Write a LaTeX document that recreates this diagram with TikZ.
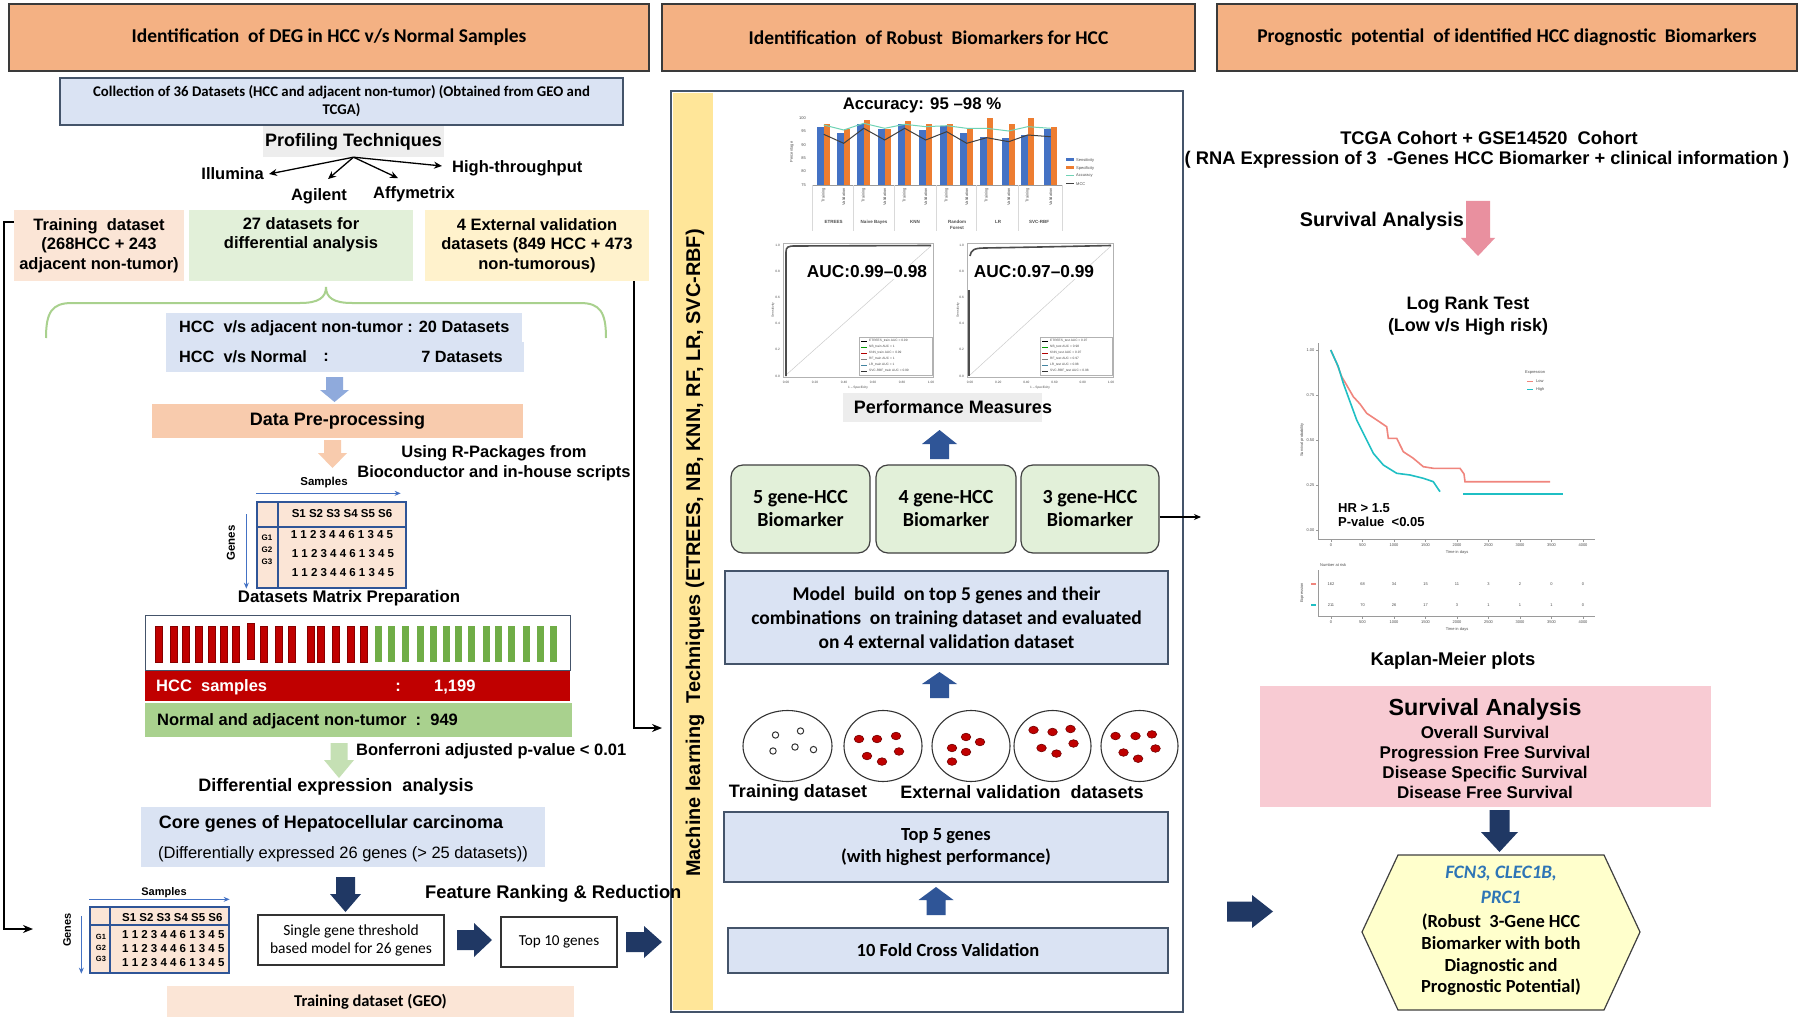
\documentclass[tikz,border=0pt]{standalone}
\usepackage{fontspec}
\setmainfont{Liberation Sans}
\newfontfamily\calfont{Carlito}
\usetikzlibrary{arrows.meta,shapes.geometric,calc}
\definecolor{hdrfill}{HTML}{F4B183}
\definecolor{hdrline}{HTML}{3A3A3A}
\definecolor{lblue}{HTML}{DAE3F3}
\definecolor{bline}{HTML}{44546A}
\definecolor{peach}{HTML}{FBE5D6}
\definecolor{peachb}{HTML}{F8CBAD}
\definecolor{lgreen}{HTML}{E2F0D9}
\definecolor{lyellow}{HTML}{FFF2CC}
\definecolor{bracec}{HTML}{A9D18E}
\definecolor{arrblue}{HTML}{8FAADC}
\definecolor{mblue}{HTML}{4472C4}
\definecolor{dred}{HTML}{C00000}
\definecolor{bgreen}{HTML}{70AD47}
\definecolor{ngreen}{HTML}{A9D18E}
\definecolor{garrow}{HTML}{C5E0B4}
\definecolor{navy}{HTML}{203864}
\definecolor{gold}{HTML}{FFE699}
\definecolor{upblue}{HTML}{2F5597}
\definecolor{lgray}{HTML}{EDEDED}
\definecolor{pinkar}{HTML}{E9909F}
\definecolor{pinkbox}{HTML}{F8CBD3}
\definecolor{hexfill}{HTML}{FFFFCC}
\definecolor{geneblue}{HTML}{2E75B6}
\definecolor{barorange}{HTML}{ED7D31}
\definecolor{barblue}{HTML}{4472C4}
\definecolor{accgreen}{HTML}{6FD3B5}
\definecolor{mccgray}{HTML}{404040}
\definecolor{kmred}{HTML}{F0857D}
\definecolor{kmcyan}{HTML}{1FBFC4}
\definecolor{axgray}{HTML}{9A9A9A}
\newcommand\fs[2]{\fontsize{#1}{#2}\selectfont}
\newcommand\mybox[7]{\node[#6,minimum width={(#4)-(#2)},minimum height={(#5)-(#3)},inner sep=0pt] (#1) at ({((#2)+(#4))/2},{((#3)+(#5))/2}) {#7};}
\newcommand\mydarrow[7]{\fill[#1] ({(#2)-(#5)/2},#3) -- ({(#2)+(#5)/2},#3) -- ({(#2)+(#5)/2},#7) -- ({(#2)+(#6)/2},#7) -- (#2,#4) -- ({(#2)-(#6)/2},#7) -- ({(#2)-(#5)/2},#7) -- cycle;}
\newcommand\myharrow[7]{\fill[#1] (#3,{(#2)-(#5)/2}) -- (#7,{(#2)-(#5)/2}) -- (#7,{(#2)-(#6)/2}) -- (#4,#2) -- (#7,{(#2)+(#6)/2}) -- (#7,{(#2)+(#5)/2}) -- (#3,{(#2)+(#5)/2}) -- cycle;}
\tikzset{
  hdr/.style={draw=hdrline,line width=1.5pt,fill=hdrfill,font=\calfont\bfseries\fs{19.5}{23}},
  lab/.style={inner sep=0pt},
  tbox/.style={align=center,font=\bfseries\fs{16.5}{19.5}},
  thinar/.style={line width=1.3pt,-{Stealth[length=8pt,width=7pt]}},
  bigconn/.style={line width=2pt,-{Stealth[length=10pt,width=8pt]}},
  mbox/.style={draw=bline,line width=1.3pt,fill=lblue,align=center,font=\calfont\bfseries\fs{19.5}{24}},
  gbox/.style={draw=black!75,line width=1.2pt,fill=lgreen,rounded corners=12pt,align=center,font=\calfont\bfseries\fs{20}{23}},
  tiny/.style={inner sep=0pt,font=\mdseries\fs{4}{5},text=black!70},
  dotr/.style={fill=dred,draw=dred!60!black,line width=0.6pt},
}
\begin{document}
\begin{tikzpicture}[x=1pt,y=-1pt]
\useasboundingbox (0,0) rectangle (1800,1019);
\fill[white] (0,0) rectangle (1800,1019);

%================ Column 1 =================
\mybox{h1}{9}{4}{649}{71}{hdr}{Identification\ \ of DEG in HCC v/s Normal Samples}
\mybox{coll}{60}{78}{623}{125}{draw=bline,line width=1.2pt,fill=lblue,align=center,font=\calfont\bfseries\fs{14.8}{18}}{Collection of 36 Datasets (HCC and adjacent non-tumor) (Obtained from GEO and\\TCGA)}
\mybox{prof}{263}{126}{444}{157}{fill=lgray,font=\bfseries\fs{18}{21}}{Profiling Techniques}
\node[lab,anchor=east,font=\bfseries\fs{16.5}{20}] (illu) at (264,174) {Illumina};
\node[lab,font=\bfseries\fs{16.5}{20}] (agil) at (319,196) {Agilent};
\node[lab,font=\bfseries\fs{16.5}{20}] (affy) at (414,194) {Affymetrix};
\node[lab,anchor=west,font=\bfseries\fs{16.5}{20}] (hith) at (452,168) {High-throughput};
\draw[thinar] (prof.south) -- ([xshift=5pt]illu.east);
\draw[thinar] (prof.south) -- ([xshift=9pt,yshift=9pt]agil.north);
\draw[thinar] (prof.south) -- ([xshift=-16pt,yshift=8pt]affy.north);
\draw[thinar] (prof.south) -- ([xshift=-10pt,yshift=2pt]hith.west);

\mybox{train}{14}{210}{184}{281}{tbox,fill=peach}{Training\ \ dataset\\(268HCC + 243\\adjacent non-tumor)}
\mybox{d27}{189}{210}{413}{281}{tbox,fill=lgreen}{27 datasets for\\differential analysis\\\strut}
\mybox{ext}{425}{210}{649}{281}{tbox,fill=lyellow}{4 External validation\\datasets (849 HCC + 473\\non-tumorous)}

\draw[bracec,line width=2pt] (46,338) .. controls (46,312) and (52,303) .. (72,303) -- (300,303) .. controls (318,303) and (326,298) .. (326,287) .. controls (326,298) and (334,303) .. (352,303) -- (580,303) .. controls (600,303) and (606,312) .. (606,338);

\mybox{vs1}{166}{313}{522}{342}{fill=lblue}{}
\mybox{vs2}{166}{342}{524}{372}{fill=lblue}{}
\node[lab,anchor=west,font=\bfseries\fs{16.3}{19}] (vs1t) at (179,328) {HCC\ \ v/s adjacent non-tumor : 20 Datasets};
\node[lab,anchor=west,font=\bfseries\fs{16.3}{19}] (vs2a) at (179,357) {HCC\ \ v/s Normal};
\node[lab,font=\bfseries\fs{16.3}{19}] (vs2b) at (326,357) {:};
\node[lab,anchor=east,font=\bfseries\fs{16.3}{19}] (vs2c) at (503,357) {7 Datasets};

\mydarrow{arrblue}{334.5}{377}{402}{17}{29}{390}
\mybox{pre}{152}{404}{523}{438}{fill=peachb,font=\bfseries\fs{18}{21}}{Data Pre-processing}
\mydarrow{peachb}{332.5}{440}{468}{17}{29}{453}
\node[align=center,inner sep=0pt,font=\bfseries\fs{16.5}{20}] (usingr) at (494,463) {Using R-Packages from\\Bioconductor and in-house scripts};

% matrix 1
\node[lab,font=\bfseries\fs{11.5}{13}] (samp1) at (324,483) {Samples};
\mybox{mat1}{257}{502}{406}{588}{draw=upblue,line width=1.3pt,fill=peach}{}
\draw[upblue,line width=1.1pt] (278,502) -- (278,588) (257,527) -- (406,527);
\draw[mblue,line width=1.3pt,-{Stealth[length=6pt,width=5pt]}] ([yshift=8pt]mat1.north west) -- ([yshift=8pt,xshift=-6pt]mat1.north east);
\node[lab,font=\bfseries\fs{11.5}{13}] (m1h) at (342,514) {S1 S2 S3 S4 S5 S6};
\node[lab,font=\bfseries\fs{11.5}{13}] (m1r1) at (342,535) {1 1 2 3 4 4 6 1 3 4 5};
\node[lab,font=\bfseries\fs{11.5}{13}] (m1r2) at (343,554) {1 1 2 3 4 4 6 1 3 4 5};
\node[lab,font=\bfseries\fs{11.5}{13}] (m1r3) at (343,573) {1 1 2 3 4 4 6 1 3 4 5};
\node[lab,align=center,font=\bfseries\fs{8}{12}] (m1g) at (267,550) {G1\\G2\\G3};
\node[lab,rotate=90,font=\bfseries\fs{11.5}{13}] (genes1) at (231,543) {Genes};
\draw[mblue,line width=1.3pt,-{Stealth[length=6pt,width=5pt]}] ([xshift=-10pt,yshift=-13pt]mat1.north west) -- ([xshift=-10pt]mat1.south west);
\node[lab,font=\bfseries\fs{16.8}{20}] (dmp) at (349,598) {Datasets Matrix Preparation};

% bars
\mybox{bars}{145}{615}{570}{670}{draw=bline,line width=1pt,fill=white}{}
\foreach \x in {155,170,182,195,208,220,232,260,275,288,307,317,332,347,360}
  \fill[dred,draw=dred!70!black,line width=0.5pt] (\x,626) rectangle ++(7.5,36);
\fill[dred,draw=dred!70!black,line width=0.5pt] (247,623) rectangle ++(7.5,36);
\foreach \x in {375,388,402,417,430,443,455,468,483,495,508,523,537,550}
  \fill[bgreen] (\x,626) rectangle ++(7,36);
\mybox{hccs}{145}{671}{570}{701}{fill=dred}{}
\node[lab,anchor=west,text=white,font=\bfseries\fs{16.5}{19}] (hcct) at (156,687) {HCC\ \ samples};
\node[lab,text=white,font=\bfseries\fs{16.5}{19}] (hccc) at (398,687) {:};
\node[lab,anchor=west,text=white,font=\bfseries\fs{16.5}{19}] (hccn) at (434,687) {1,199};
\mybox{norm}{145}{703}{572}{737}{fill=ngreen}{}
\node[lab,anchor=west,font=\bfseries\fs{16.5}{19}] (normt) at (157,721) {Normal and adjacent non-tumor\ \ :\ \ 949};

\mydarrow{garrow}{339}{743}{778}{17}{30}{760}
\node[lab,anchor=west,font=\bfseries\fs{16.5}{19}] (bonf) at (356,751) {Bonferroni adjusted p-value < 0.01};
\node[lab,font=\bfseries\fs{18}{21}] (diffx) at (336,787) {Differential expression\ \ analysis};
\mybox{core}{141}{807}{545}{867}{fill=lblue}{}
\node[lab,font=\bfseries\fs{18}{21}] (coret) at (331,824) {Core genes of Hepatocellular carcinoma};
\node[lab,font=\mdseries\fs{16.5}{19}] (cores) at (343,854) {(Differentially expressed 26 genes (> 25 datasets))};
\mydarrow{navy}{345.5}{877}{912}{19}{31}{894}

% matrix 2
\node[lab,font=\bfseries\fs{11}{13}] (samp2) at (164,893) {Samples};
\mybox{mat2}{90}{907}{229}{973}{draw=upblue,line width=1.3pt,fill=peach}{}
\draw[upblue,line width=1.1pt] (110,907) -- (110,973) (90,925) -- (229,925);
\draw[mblue,line width=1.3pt,-{Stealth[length=6pt,width=5pt]}] ([yshift=7pt]mat2.north west) -- ([yshift=7pt]mat2.north east);
\begin{scope}
\clip (90,907) rectangle (229,973);
\node[lab,anchor=west,font=\bfseries\fs{11.5}{13}] (m2h) at (122,918) {S1 S2 S3 S4 S5 S6};
\node[lab,anchor=west,font=\bfseries\fs{11.5}{13}] (m2r1) at (122,935) {1 1 2 3 4 4 6 1 3 4 5};
\node[lab,anchor=west,font=\bfseries\fs{11.5}{13}] (m2r2) at (122,949) {1 1 2 3 4 4 6 1 3 4 5};
\node[lab,anchor=west,font=\bfseries\fs{11.5}{13}] (m2r3) at (122,963) {1 1 2 3 4 4 6 1 3 4 5};
\end{scope}
\node[lab,align=center,font=\bfseries\fs{7.5}{11}] (m2g) at (101,948) {G1\\G2\\G3};
\node[lab,rotate=90,font=\bfseries\fs{11}{13}] (genes2) at (67,930) {Genes};
\draw[mblue,line width=1.3pt,-{Stealth[length=6pt,width=5pt]}] ([xshift=-8pt,yshift=-10pt]mat2.north west) -- ([xshift=-8pt]mat2.south west);

\mybox{sgl}{258}{915}{444}{965}{draw=black!80,line width=1.2pt,fill=white,align=center,font=\calfont\mdseries\fs{15.5}{18}}{Single gene threshold\\based model for 26 genes}
\myharrow{navy}{940}{457}{492}{20}{34}{474}
\mybox{top10}{501}{917}{617}{967}{draw=black!80,line width=1.2pt,fill=white,font=\calfont\mdseries\fs{15.2}{18}}{Top 10 genes}
\myharrow{navy}{942}{626}{662}{20}{32}{644}
\mybox{geo}{167}{986}{574}{1017}{fill=peach,font=\calfont\bfseries\fs{16.5}{20}}{Training dataset (GEO)}

\coordinate (lcorner) at (4,929);
\coordinate (m2tip) at (33,929);
\draw[bigconn] ([yshift=23.5pt]train.west) -| (lcorner) -- (m2tip);
\coordinate (rtip) at (662,728);
\draw[bigconn] ([xshift=-15pt]ext.south east) |- (rtip);

%================ Column 2 =================
\mybox{h2}{662}{4}{1195}{71}{hdr}{Identification\ \ of Robust\ \ Biomarkers for HCC}
\mybox{ml}{671}{91}{1183}{1012}{draw=bline,line width=1.3pt,fill=white}{}
\mybox{band}{673}{93}{713}{1010}{fill=gold}{}
\node[lab,rotate=90,font=\bfseries\fs{19.9}{22}] (mltext) at (695,553) {Machine learning\ \ Techniques (ETREES, NB, KNN, RF, LR, SVC-RBF)};
\node[lab,anchor=west,font=\bfseries\fs{18.3}{21}] (feat) at (425,894) {Feature Ranking \& Reduction};

\node[lab,font=\bfseries\fs{16.8}{20}] (acc) at (922,105) {Accuracy: 95 --98 \%};
% bar chart
\foreach \xb/\bt/\ot in {817/127.3/124,837/132.7/129.3,857/124.3/120,878/128.7/128.7,898/124/121,919/130/124.3,940/126/124.3,960/132.7/128.3,980/136.7/117.7,1002/137.7/124.3,1021/134.7/117.7,1044/129/126.7}{
  \fill[barblue] (\xb,\bt) rectangle ({\xb+6.7},185);
  \fill[barorange] ({\xb+6.7},\ot) rectangle ({\xb+13.4},185);
}
\draw[accgreen,line width=1pt] (823.7,125) -- (843.7,130) -- (863.7,123.3) -- (884.7,128.3) -- (904.7,124.3) -- (925.7,126.7) -- (946.7,125.7) -- (966.7,128.3) -- (986.7,128.3) -- (1008.7,131) -- (1027.7,126.7) -- (1050.7,128.3);
\draw[mccgray,line width=1pt] (823.7,134.3) -- (843.7,143.3) -- (863.7,128.3) -- (884.7,140) -- (904.7,128.3) -- (925.7,140) -- (946.7,131.7) -- (966.7,143.3) -- (986.7,137.7) -- (1008.7,141.7) -- (1027.7,135) -- (1050.7,136.7);
\draw[axgray,line width=0.6pt] (812,185) -- (1062,185);
\foreach \xs in {812,853.7,894.7,936,976.7,1018,1062} \draw[black!15,line width=0.5pt] (\xs,185) -- (\xs,231);
\foreach \xb [count=\i] in {823.7,843.7,863.7,884.7,904.7,925.7,946.7,966.7,986.7,1008.7,1027.7,1050.7}{
  \ifodd\i \node[tiny,rotate=90,anchor=east] (bl\i) at (\xb,188) {Training};
  \else \node[tiny,rotate=90,anchor=east] (bl\i) at (\xb,188) {Validation}; \fi
}
\foreach \gx/\gt [count=\i] in {833.7/ETREES,874/Naive Bayes,915/KNN,998/LR,1039/SVC-RBF}
  \node[tiny,font=\bfseries\fs{4.5}{5}] (grp\i) at (\gx,222) {\gt};
\node[tiny,align=center,font=\bfseries\fs{4.5}{5.5}] (grprf) at (957,225) {Random\\Forest};
\foreach \yl/\yt [count=\i] in {118/100,131.3/95,144.7/90,158/85,171.3/80,184.7/75}
  \node[tiny,anchor=east] (yl\i) at (806,\yl) {\yt};
\node[tiny,rotate=90] (ylab) at (792,152) {Percentage};
\fill[barblue] (1066,158.5) rectangle (1074,161.5);
\fill[barorange] (1066,166.5) rectangle (1074,169.5);
\draw[accgreen,line width=1pt] (1066,176) -- (1074,176);
\draw[mccgray,line width=1pt] (1066,184) -- (1074,184);
\foreach \ly/\lt [count=\i] in {160/Sensitivity,168/Specificity,176/Accuracy,184/MCC}
  \node[tiny,anchor=west] (lg\i) at (1076,\ly) {\lt};

% ROC plots
\draw[black!30,line width=0.5pt] (783,243) rectangle (933,377);
\draw[black!20,line width=0.5pt] (786,375) -- (931,246);
\draw[black!70,line width=1.6pt] (786,376) -- (786,252) .. controls (786,247) and (788,246) .. (795,246) -- (931,245.5);
\draw[black!30,line width=0.5pt] (967,243) rectangle (1113,377);
\draw[black!20,line width=0.5pt] (970,375) -- (1111,246);
\draw[black!70,line width=1.6pt] (969,376) -- (969,290);
\draw[black!70,line width=1.6pt] (970,256) .. controls (971,250) and (974,248) .. (985,248) -- (1040,247) -- (1111,245.5);
\draw[black!30,line width=0.4pt,fill=white] (859,337) rectangle (932,375);
\draw[black!30,line width=0.4pt,fill=white] (1040,337) rectangle (1112,375);
\foreach \lt/\lc [count=\k] in {ETREES\_train AUC = 0.99/black,NB\_train AUC = 1/green!60!black,KNN\_train AUC = 0.99/red!70!black,RF\_train AUC = 1/gray,LR\_train AUC = 1/cyan!60!black,SVC-RBF\_train AUC = 0.99/black!80}{
  \draw[\lc,line width=0.6pt] (861,{335+6*\k}) -- (867,{335+6*\k});
  \node[tiny,anchor=west,font=\mdseries\fs{3.2}{4}] (ra\k) at (869,{335+6*\k}) {\lt};
}
\foreach \lt/\lc [count=\k] in {ETREES\_test AUC = 0.97/black,NB\_test AUC = 0.98/green!60!black,KNN\_test AUC = 0.97/red!70!black,RF\_test AUC = 0.97/gray,LR\_test AUC = 0.98/cyan!60!black,SVC-RBF\_test AUC = 0.98/black!80}{
  \draw[\lc,line width=0.6pt] (1042,{335+6*\k}) -- (1048,{335+6*\k});
  \node[tiny,anchor=west,font=\mdseries\fs{3.2}{4}] (rb\k) at (1050,{335+6*\k}) {\lt};
}
\foreach \tl [count=\k from 0] in {0.00,0.20,0.40,0.60,0.80,1.00}{
  \node[tiny,font=\mdseries\fs{3.2}{4}] (rxa\k) at ({786+29*\k},382) {\tl};
  \node[tiny,font=\mdseries\fs{3.2}{4}] (rxb\k) at ({970+28.2*\k},382) {\tl};
}
\foreach \tl [count=\k from 0] in {1.0,0.8,0.6,0.4,0.2,0.0}{
  \node[tiny,anchor=east,font=\mdseries\fs{3.2}{4}] (rya\k) at (780,{245+26.2*\k}) {\tl};
  \node[tiny,anchor=east,font=\mdseries\fs{3.2}{4}] (ryb\k) at (964,{245+26.2*\k}) {\tl};
}
\node[tiny,font=\mdseries\fs{3.2}{4}] (rxta) at (858,388) {1 -- Specificity};
\node[tiny,font=\mdseries\fs{3.2}{4}] (rxtb) at (1040,388) {1 -- Specificity};
\node[tiny,rotate=90,font=\mdseries\fs{3.2}{4}] (ryta) at (773,310) {Sensitivity};
\node[tiny,rotate=90,font=\mdseries\fs{3.2}{4}] (rytb) at (958,310) {Sensitivity};
\node[lab,fill=white,inner sep=1pt,font=\bfseries\fs{17.3}{20}] (auc1) at (867,272) {AUC:0.99--0.98};
\node[lab,fill=white,inner sep=1pt,font=\bfseries\fs{17.3}{20}] (auc2) at (1034,272) {AUC:0.97--0.99};

\mybox{perf}{843}{393}{1042}{422}{fill=lgray}{}
\node[lab,font=\bfseries\fs{18}{21}] (perft) at (953,407) {Performance Measures};
\mydarrow{upblue}{939.5}{459}{430}{19}{35}{444}

\mybox{g5}{731}{465}{870}{553}{gbox}{5 gene-HCC\\Biomarker}
\mybox{g4}{876}{465}{1016}{553}{gbox}{4 gene-HCC\\Biomarker}
\mybox{g3}{1021}{465}{1159}{553}{gbox}{3 gene-HCC\\Biomarker}
\coordinate (kmin) at (1201,517);
\draw[line width=1.1pt,-{Stealth[length=7pt,width=6pt]}] ([yshift=-8pt]g3.east) -- (kmin);

\mybox{model}{725}{571}{1168}{664}{mbox}{Model\ \ build\ \ on top 5 genes and their\\combinations\ \ on training dataset and evaluated\\on 4 external validation dataset}
\mydarrow{upblue}{939.5}{698}{672}{19}{35}{684}

% ellipses
\node[ellipse,draw=black!80,line width=1.1pt,minimum width=89pt,minimum height=71pt,inner sep=0pt] (e1) at (787.5,746) {};
\node[ellipse,draw=black!80,line width=1.1pt,minimum width=78pt,minimum height=71pt,inner sep=0pt] (e2) at (883,746) {};
\node[ellipse,draw=black!80,line width=1.1pt,minimum width=78pt,minimum height=71pt,inner sep=0pt] (e3) at (971,746) {};
\node[ellipse,draw=black!80,line width=1.1pt,minimum width=77pt,minimum height=71pt,inner sep=0pt] (e4) at (1052.5,746) {};
\node[ellipse,draw=black!80,line width=1.1pt,minimum width=77pt,minimum height=71pt,inner sep=0pt] (e5) at (1139.5,746) {};
\foreach \dx/\dy in {-12/-11,13/-15,-14.5/5,7.5/1,26/3.6}
  \draw[black!80,line width=1pt] ({787.5+\dx},{746+\dy}) circle (3.2);
\foreach \dx/\dy in {-24/-7,-6/-7,13/-10,-16/10,16/5.5,-1/15.6}
  \draw[dotr] ({883+\dx},{746+\dy}) ellipse (4.8 and 3.8);
\foreach \dx/\dy in {-5/-9,9/-4,-19/2,-5/6,-19/15.6}
  \draw[dotr] ({971+\dx},{746+\dy}) ellipse (4.8 and 3.8);
\foreach \dx/\dy in {-19/-16,0/-14,18/-17,-11/2,21/-2.5,4/7.6}
  \draw[dotr] ({1052.5+\dx},{746+\dy}) ellipse (4.8 and 3.8);
\foreach \dx/\dy in {-24/-10,-4/-10,12.4/-11.6,-16/6.5,16/2.5,-1.4/12.7}
  \draw[dotr] ({1139.5+\dx},{746+\dy}) ellipse (4.8 and 3.8);
\node[lab,font=\bfseries\fs{18}{21}] (trl) at (798,793) {Training dataset};
\node[lab,font=\bfseries\fs{18}{21}] (evl) at (1022,792) {External validation\ \ datasets};

\mybox{top5}{724}{812}{1168}{882}{mbox,font=\calfont\bfseries\fs{18.5}{21.5}}{Top 5 genes\\(with highest performance)}
\mydarrow{upblue}{936}{915}{887}{19}{35}{900}
\mybox{fold}{728}{928}{1168}{973}{mbox,font=\calfont\bfseries\fs{18.5}{21.5}}{10 Fold Cross Validation}

%================ Column 3 =================
\mybox{h3}{1217}{4}{1797}{71}{hdr}{Prognostic\ \ potential\ \ of identified HCC diagnostic\ \ Biomarkers}
\node[lab,font=\bfseries\fs{18.3}{21}] (tcga) at (1489,138) {TCGA Cohort + GSE14520\ \ Cohort};
\node[lab,font=\bfseries\fs{18.3}{21}] (rna) at (1487,160) {( RNA Expression of 3\ \ -Genes HCC Biomarker + clinical information )};
\node[lab,anchor=east,font=\bfseries\fs{19.8}{23}] (survl) at (1464,221) {Survival Analysis};
\mydarrow{pinkar}{1478}{201}{256}{24}{34}{238}
\node[lab,align=center,font=\bfseries\fs{18}{22}] (logrank) at (1468,316) {Log Rank Test\\(Low v/s High risk)};

% KM plot
\draw[axgray,line width=0.7pt] (1318,343) -- (1318,539) -- (1595,539);
\draw[axgray,line width=0.7pt] (1318,570) -- (1318,616) -- (1595,616);
\foreach \tl [count=\k from 0] in {0,500,1000,1500,2000,2500,3000,3500,4000}{
  \draw[axgray,line width=0.5pt] ({1331+31.5*\k},539) -- ++(0,2.5);
  \draw[axgray,line width=0.5pt] ({1331+31.5*\k},616) -- ++(0,2.5);
  \node[tiny] (kxa\k) at ({1331+31.5*\k},545.5) {\tl};
  \node[tiny] (kxb\k) at ({1331+31.5*\k},622.5) {\tl};
}
\foreach \yv/\yt [count=\k] in {350/1.00,395/0.75,440/0.50,485/0.25,530/0.00}{
  \draw[axgray,line width=0.5pt] (1318,\yv) -- ++(-2.5,0);
  \node[tiny,anchor=east] (ky\k) at (1314.5,\yv) {\yt};
}
\node[tiny] (kxt1) at (1457,552) {Time in days};
\node[tiny] (kxt2) at (1457,629) {Time in days};
\node[tiny,rotate=90] (kyt) at (1302,440) {Survival probability};
\node[tiny,rotate=90] (kyt2) at (1302,593) {Expression};
\node[tiny,anchor=west] (nrisk) at (1320,565) {Number at risk};
\draw[kmred,line width=1.6pt] (1330.7,350) -- (1336.7,363.3) -- (1341.7,376.7) -- (1346,384) -- (1353.3,396.7) -- (1360,404) -- (1366.7,413.3) -- (1376.7,420) -- (1386.7,426.7) -- (1388.3,438.3) -- (1396.7,438.3) -- (1403.3,451.7) -- (1413.3,458.3) -- (1423.3,466.7) -- (1433.3,468.3) -- (1460,468.3) -- (1464,474) -- (1465,481.7) -- (1550,481.7);
\draw[kmcyan,line width=1.6pt] (1330.7,350) -- (1338.3,366.7) -- (1343.3,383.3) -- (1350,401.7) -- (1356.7,420) -- (1365,436.7) -- (1373.3,453.3) -- (1383.3,465) -- (1396.7,473.3) -- (1410,475) -- (1423.3,478.3) -- (1433.3,481.7) -- (1440,491.7);
\draw[kmcyan,line width=1.6pt] (1463.3,494) -- (1563.3,494);
\node[tiny,anchor=west] (kleg) at (1525,372) {Expression};
\draw[kmred,line width=0.8pt] (1527,381) -- (1533,381);
\draw[kmcyan,line width=0.8pt] (1527,389) -- (1533,389);
\node[tiny,anchor=west] (kl1) at (1536,381) {Low};
\node[tiny,anchor=west] (kl2) at (1536,389) {High};
\node[lab,anchor=west,font=\bfseries\fs{13}{15}] (hr) at (1338,508) {HR > 1.5};
\node[lab,anchor=west,font=\bfseries\fs{13}{15}] (pv) at (1338,522) {P-value\ \ <0.05};
\draw[kmred,line width=1.2pt] (1311,584) -- (1316,584);
\draw[kmcyan,line width=1.2pt] (1311,605) -- (1316,605);
\foreach \nv [count=\k from 0] in {162,68,34,15,11,3,2,0,0}
  \node[tiny] (nr\k) at ({1331+31.5*\k},584) {\nv};
\foreach \nv [count=\k from 0] in {211,70,26,17,3,1,1,1,0}
  \node[tiny] (nc\k) at ({1331+31.5*\k},605) {\nv};
\node[lab,font=\bfseries\fs{18.4}{21}] (kmp) at (1453,661) {Kaplan-Meier plots};

\mybox{pinkb}{1260}{686}{1711}{807}{fill=pinkbox}{}
\node[lab,font=\bfseries\fs{23.3}{26}] (survt) at (1485,709) {Survival Analysis};
\node[lab,align=center,font=\bfseries\fs{17}{20}] (survl2) at (1485,762) {Overall Survival\\Progression Free Survival\\Disease Specific Survival\\Disease Free Survival};
\mydarrow{navy}{1499.5}{810}{852}{20}{37}{832}
\draw[line width=1.2pt,draw=black!75,fill=hexfill] (1398,855) -- (1604,855) -- (1640,932) -- (1604,1010) -- (1398,1010) -- (1362,932) -- cycle;
\node[lab,align=center,font=\calfont\bfseries\fs{18.5}{21.5}] (hex) at (1501,931) {{\color{geneblue}\itshape\fs{19}{21.5}FCN3, CLEC1B,}\\[4pt]{\color{geneblue}\itshape\fs{19}{21.5}PRC1}\\[2pt](Robust\ \ 3-Gene HCC\\[1pt]Biomarker with both\\Diagnostic and\\Prognostic Potential)};
\myharrow{navy}{911.5}{1227}{1273}{20}{33}{1252}
\end{tikzpicture}
\end{document}
